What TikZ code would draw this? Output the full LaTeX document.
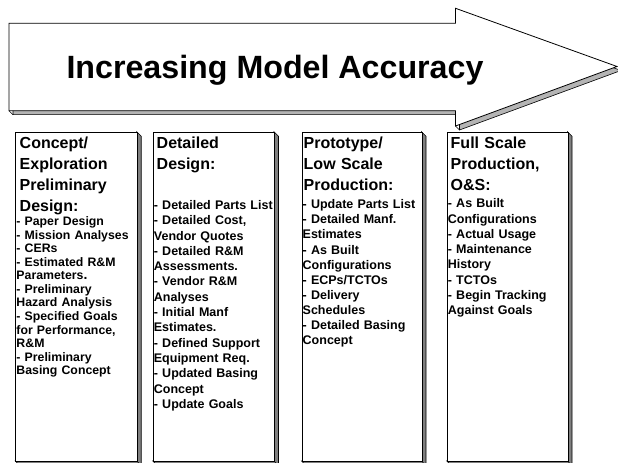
\documentclass[tikz,border=0pt]{standalone}
\usepackage{fontspec}
\setmainfont{Liberation Sans}
\definecolor{boxgray}{HTML}{7F7F7F}
\definecolor{arrowgray}{HTML}{B4B4B4}
\begin{document}
\begin{tikzpicture}[x=1bp,y=-1bp,
  outline/.style={draw=black,line width=0.8bp,line join=miter},
  arrowshade/.style={fill=arrowgray,draw=black,line width=0.6bp},
  boxshade/.style={fill=boxgray,draw=black,line width=0.6bp},
  bevel/.style={draw=black,line width=0.6bp},
  phase/.style={outline,fill=white,rectangle,inner sep=0pt,anchor=north west},
  title/.style={font=\fontsize{32.2bp}{39bp}\selectfont\bfseries,anchor=base,inner sep=0pt},
  heading/.style={font=\fontsize{16bp}{20.7bp}\selectfont\bfseries,anchor=base west,align=left,text width=130bp,inner sep=0pt},
  items/.style={font=\fontsize{12.5bp}{15.3bp}\selectfont\bfseries,anchor=base west,align=left,text width=130bp,inner sep=0pt},
  smallitems/.style={font=\fontsize{12.3bp}{13.5bp}\selectfont\bfseries,anchor=base west,align=left,text width=130bp,inner sep=0pt},
]
\useasboundingbox (0,0) rectangle (618,463);
\clip (0,0) rectangle (618,463);

% arrow with extruded shadow
\path[arrowshade] (13,27.3) -- (459.5,27.3) -- (459.5,12.3) -- (621,70.5) -- (459.5,130) -- (459.5,114.7) -- (13,114.7) -- cycle;
\draw[bevel] (9,110.7) -- (13,114.7);
\draw[bevel] (455.5,126) -- (459.5,130);
\path[outline,fill=white] (9,23.3) -- (455.5,23.3) -- (455.5,8.3) -- (617,66.5) -- (455.5,126) -- (455.5,110.7) -- (9,110.7) -- cycle;
\node[title] (title) at (275,79) {Increasing Model Accuracy};

% phase boxes
\foreach \n/\l/\r in {b1/15.3/136.7, b2/152.7/274, b3/301.5/421.5, b4/446.7/567.5}{
  \pgfmathsetmacro\w{\r-\l}
  \path[boxshade] (\r,131.7) -- (\r+4.5,136.2) -- (\r+4.5,465.5) -- (\l+4.5,465.5) -- (\l,461) -- (\r,461) -- cycle;
  \draw[bevel] (\r,461) -- (\r+4.5,465.5);
  \node[phase,minimum width=\w bp,minimum height=329.3bp] (\n) at (\l,131.7) {};
}

% texts
\node[heading] (h1) at (19.5,149) {Concept/\\Exploration\\Preliminary\\Design:};
\node[smallitems] (i1) at (16.3,226) {- Paper Design\\- Mission Analyses\\- CERs\\- Estimated R\&M\\Parameters{\fontsize{14bp}{13.5bp}\selectfont.}\\- Preliminary\\Hazard Analysis\\- Specified Goals\\for Performance,\\R\&M\\- Preliminary\\Basing Concept};

\node[heading] (h2) at (156.5,149) {Detailed\\Design:};
\node[items] (i2) at (153.7,209.5) {- Detailed Parts List\\- Detailed Cost,\\Vendor Quotes\\- Detailed R\&M\\Assessments.\\- Vendor R\&M\\Analyses\\- Initial Manf\\Estimates.\\- Defined Support\\Equipment Req.\\- Updated Basing\\Concept\\- Update Goals};

\node[heading] (h3) at (303.5,149) {Prototype/\\Low Scale\\Production:};
\node[items,font=\fontsize{12.5bp}{15.1bp}\selectfont\bfseries] (i3) at (302.5,208.8) {- Update Parts List\\- Detailed Manf.\\Estimates\\- As Built\\Configurations\\- ECPs/TCTOs\\- Delivery\\Schedules\\- Detailed Basing\\Concept};

\node[heading] (h4) at (450.5,149) {Full Scale\\Production,\\O\&S:};
\node[items] (i4) at (447.7,207.8) {- As Built\\Configurations\\- Actual Usage\\- Maintenance\\History\\- TCTOs\\- Begin Tracking\\Against Goals};
\end{tikzpicture}
\end{document}
